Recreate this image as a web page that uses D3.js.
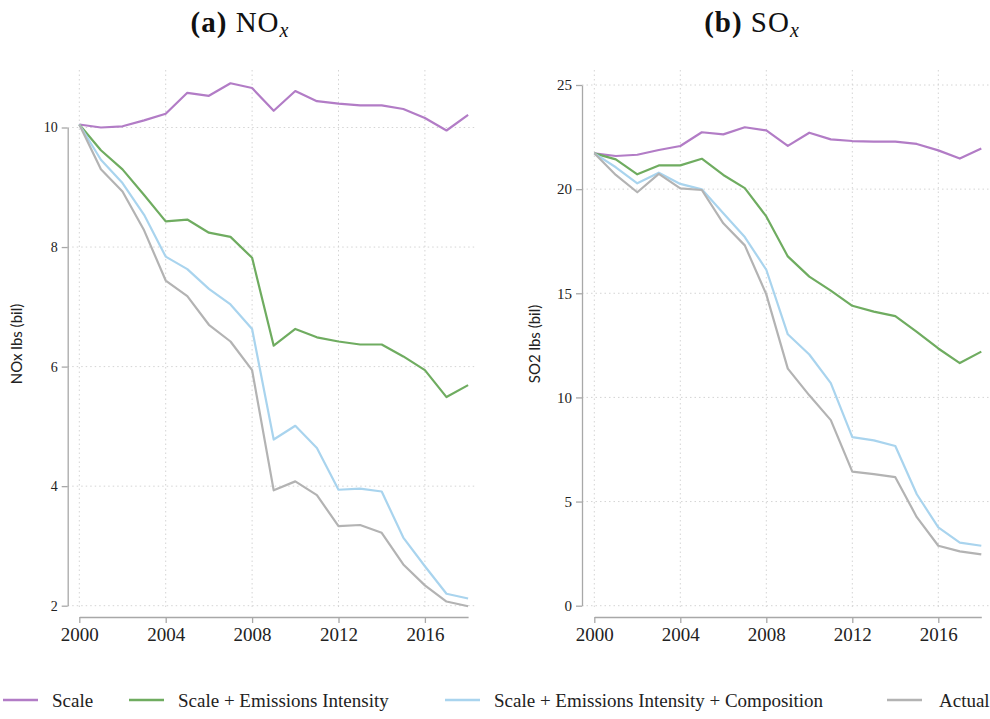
<!DOCTYPE html>
<html>
<head>
<meta charset="utf-8">
<script src="https://cdn.jsdelivr.net/npm/d3@7"></script>
<style>
	body { margin: 0; background: #fff; }
	svg { display: block; }
	.tick text { fill: #222; }
</style>
</head>
<body>
<svg id="chart" width="990" height="719"></svg>
<script>
var years = [2000, 2001, 2002, 2003, 2004, 2005, 2006, 2007, 2008, 2009, 2010, 2011, 2012, 2013, 2014, 2015, 2016, 2017, 2018];

var seriesNames = ["Scale", "Scale + Emissions Intensity", "Scale + Emissions Intensity + Composition", "Actual"];
var seriesColors = ["#b27cc6", "#6fac60", "#a9d4ee", "#b3b3b3"];

// NOx, billions of lbs
var noxScale = [10.05, 10.0, 10.02, 10.12, 10.23, 10.58, 10.53, 10.74, 10.66, 10.28, 10.61, 10.44, 10.40, 10.37, 10.37, 10.31, 10.16, 9.95, 10.21];
var noxIntensity = [10.05, 9.62, 9.30, 8.87, 8.43, 8.46, 8.24, 8.17, 7.82, 6.35, 6.63, 6.49, 6.42, 6.37, 6.37, 6.17, 5.94, 5.49, 5.69];
var noxComposition = [10.05, 9.46, 9.07, 8.54, 7.84, 7.63, 7.30, 7.04, 6.63, 4.78, 5.01, 4.64, 3.94, 3.96, 3.91, 3.14, 2.66, 2.20, 2.12];
var noxActual = [10.05, 9.30, 8.93, 8.28, 7.44, 7.18, 6.70, 6.42, 5.94, 3.93, 4.08, 3.85, 3.33, 3.35, 3.22, 2.69, 2.34, 2.07, 1.99];

// SO2, billions of lbs
var so2Scale = [21.72, 21.59, 21.65, 21.88, 22.07, 22.73, 22.63, 22.97, 22.82, 22.08, 22.71, 22.39, 22.31, 22.28, 22.28, 22.17, 21.86, 21.47, 21.95];
var so2Intensity = [21.72, 21.43, 20.71, 21.14, 21.14, 21.46, 20.68, 20.05, 18.69, 16.77, 15.80, 15.13, 14.40, 14.12, 13.90, 13.15, 12.35, 11.65, 12.20];
var so2Composition = [21.72, 21.05, 20.28, 20.79, 20.25, 19.99, 18.84, 17.70, 16.13, 13.03, 12.06, 10.69, 8.09, 7.94, 7.67, 5.35, 3.76, 3.03, 2.88];
var so2Actual = [21.72, 20.68, 19.85, 20.73, 20.04, 19.96, 18.36, 17.30, 14.95, 11.38, 10.10, 8.91, 6.44, 6.32, 6.17, 4.25, 2.88, 2.61, 2.46];

var xTicks = [2000, 2004, 2008, 2012, 2016];
var noxTicks = [2, 4, 6, 8, 10];
var so2Ticks = [0, 5, 10, 15, 20, 25];

var svg = d3.select("#chart");
var serif = "'Liberation Serif', 'DejaVu Serif', serif";

function drawPanel(opts) {
	var g = svg.append("g");
	var x = d3.scaleLinear().domain([2000, 2018]).range([opts.x0, opts.x1]);
	var y = d3.scaleLinear().domain(opts.yDomain).range([605.7, opts.yTop]);

	// dotted grid
	g.selectAll("line.vgrid")
	    .data(xTicks)
	  .enter().append("line").classed("vgrid", true)
	    .attr("x1", function (d) { return x(d) }).attr("x2", function (d) { return x(d) })
	    .attr("y1", 70).attr("y2", 607)
	    .style("stroke", "#d4d4d4").style("stroke-width", 1).style("stroke-dasharray", "1.5,3");
	g.selectAll("line.hgrid")
	    .data(opts.yTicks)
	  .enter().append("line").classed("hgrid", true)
	    .attr("x1", opts.axisX).attr("x2", opts.gridRight)
	    .attr("y1", function (d) { return y(d) }).attr("y2", function (d) { return y(d) })
	    .style("stroke", "#d4d4d4").style("stroke-width", 1).style("stroke-dasharray", "1.5,3");

	// axes
	var yAxis = g.append("g")
	    .attr("transform", "translate(" + opts.axisX + ",0)")
	    .call(d3.axisLeft(y).tickValues(opts.yTicks).tickSize(6).tickPadding(4).tickSizeOuter(0));
	yAxis.selectAll("text").style("font-family", serif).style("font-size", opts.yFont + "px");
	var xAxis = g.append("g")
	    .attr("transform", "translate(0,617)")
	    .call(d3.axisBottom(x).tickValues(xTicks).tickFormat(d3.format("d")).tickSize(6).tickPadding(5).tickSizeOuter(0));
	xAxis.selectAll("text").style("font-family", serif).style("font-size", "19px");
	g.selectAll(".domain, .tick line").style("stroke", "#a8a8a8").style("stroke-width", 1.3);

	// y title
	g.append("text")
	    .attr("transform", "translate(" + opts.labelX + ",344) rotate(-90)")
	    .attr("text-anchor", "middle")
	    .style("font-family", "Lato, 'Open Sans', sans-serif")
	    .style("font-size", "15px")
	    .style("fill", "#222")
	    .text(opts.yLabel);

	// series
	var line = d3.line()
	    .x(function (d, i) { return x(years[i]) })
	    .y(function (d) { return y(d) });
	g.selectAll("path.series")
	    .data(opts.series)
	  .enter().append("path").classed("series", true)
	    .attr("d", line)
	    .style("fill", "none")
	    .style("stroke", function (d, i) { return seriesColors[i] })
	    .style("stroke-width", 2.2)
	    .style("stroke-linejoin", "round");

	// title
	var t = svg.append("text")
	    .attr("x", opts.titleX).attr("y", 32)
	    .attr("text-anchor", "middle")
	    .style("font-family", serif)
	    .style("font-size", "29px")
	    .style("letter-spacing", "1px")
	    .style("fill", "#111");
	t.append("tspan").style("font-weight", "bold").text(opts.tag);
	t.append("tspan").text(" " + opts.gas);
	t.append("tspan").attr("dy", 5).style("font-style", "italic").style("font-size", "20px").text("x");
}

drawPanel({
	x0: 79.3, x1: 468.1, yTop: 127.5, yDomain: [2, 10], yTicks: noxTicks,
	axisX: 67.7, gridRight: 477, yFont: 14, labelX: 22,
	yLabel: "NOx lbs (bil)", tag: "(a)", gas: "NO", titleX: 240,
	series: [noxScale, noxIntensity, noxComposition, noxActual]
});

drawPanel({
	x0: 594.3, x1: 981.3, yTop: 85, yDomain: [0, 25], yTicks: so2Ticks,
	axisX: 582, gridRight: 990, yFont: 15, labelX: 540,
	yLabel: "SO2 lbs (bil)", tag: "(b)", gas: "SO", titleX: 752,
	series: [so2Scale, so2Intensity, so2Composition, so2Actual]
});

// legend
var legendX = [3, 129, 445, 887];
var legend = svg.selectAll("g.legend")
    .data(seriesNames)
  .enter().append("g").classed("legend", true)
    .attr("transform", function (d, i) { return "translate(" + legendX[i] + ",700)" });
legend.append("line")
    .attr("x1", 0).attr("x2", 35).attr("y1", 0).attr("y2", 0)
    .style("stroke", function (d, i) { return seriesColors[i] })
    .style("stroke-width", 2.5);
legend.append("text")
    .attr("x", function (d, i) { return i === 3 ? 52 : 49 })
    .attr("y", 6.5)
    .style("font-family", serif)
    .style("font-size", "19px")
    .style("fill", "#222")
    .text(function (d) { return d });
</script>
</body>
</html>
